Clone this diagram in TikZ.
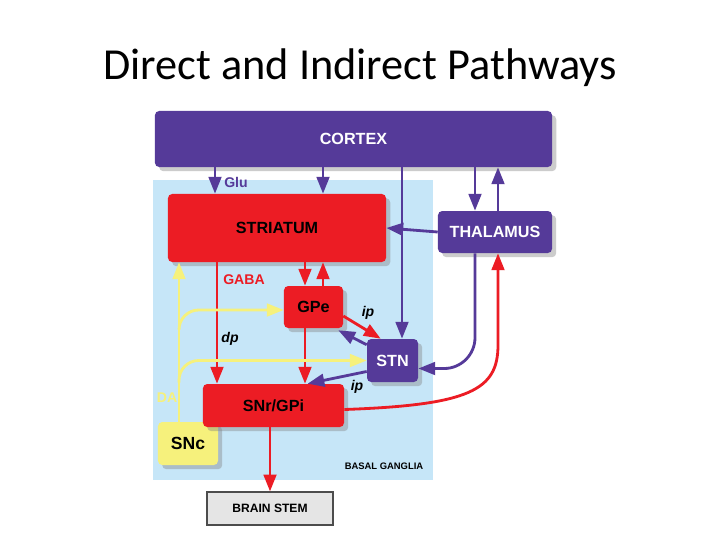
\documentclass[tikz,border=0pt]{standalone}
\usepackage{fontspec}
\setmainfont{Liberation Sans}
\newfontfamily\titlefont{Carlito}
\usetikzlibrary{positioning,calc,shadows,arrows.meta}
\definecolor{GangPurple}{HTML}{553A99}
\definecolor{GangRed}{HTML}{EC1C24}
\definecolor{GangBlue}{HTML}{C6E6F8}
\definecolor{GangYellow}{HTML}{F6F17C}
\definecolor{GangGrey}{HTML}{E5E5E5}

\begin{document}
\begin{tikzpicture}[x=0.025cm,y=-0.025cm,
    box/.style={rounded corners=3pt,inner sep=0pt,font=\bfseries\fontsize{11.5}{12}\selectfont,
      drop shadow={shadow xshift=3pt,shadow yshift=-3pt,opacity=0.4}},
    purplebox/.style={box,fill=GangPurple,text=white},
    redbox/.style={box,fill=GangRed,text=black},
    parr/.style={GangPurple,line width=2pt,-{Triangle[length=12pt,width=9pt]}},
    rarr/.style={parr,GangRed},
    yarr/.style={parr,GangYellow},
    lbl/.style={font=\bfseries\fontsize{10}{11}\selectfont,inner sep=0pt},
    pathlbl/.style={lbl,font=\bfseries\itshape\fontsize{10}{11}\selectfont}]
  \useasboundingbox (0,0) rectangle (720,540);
  \fill[white] (0,0) rectangle (720,540);
  \node[font=\titlefont\fontsize{31.5}{36}\selectfont] (title) at (360,68) {Direct and Indirect Pathways};
  \fill[GangBlue] (153,180) rectangle (433,480);
  \node[font=\bfseries\fontsize{6.7}{7}\selectfont,inner sep=0pt] (ganglia) at (384,466) {BASAL GANGLIA};

  \node[purplebox,minimum width=9.925cm,minimum height=1.4cm] (cortex) at (353.5,139) {CORTEX};
  \node[redbox,minimum width=5.45cm,minimum height=1.7cm] (striatum) at (277,228) {STRIATUM};
  \node[purplebox,minimum width=2.85cm,minimum height=1.05cm] (thalamus) at (495,232) {THALAMUS};
  \node[redbox,minimum width=1.475cm,minimum height=1.05cm] (gpe) at (313.5,307) {GPe};
  \node[purplebox,minimum width=1.275cm,minimum height=1.075cm] (stn) at (392.5,360.5) {STN};
  \node[box,fill=GangYellow,minimum width=1.5cm,minimum height=1.075cm,
    font=\bfseries\fontsize{12.5}{13}\selectfont] (snc) at (188,443.5) {SNc};
  \node[redbox,minimum width=3.525cm,minimum height=1.075cm] (snr) at (273.5,405.5) {SNr/GPi};
  \node[draw=black!70,line width=0.8pt,fill=GangGrey,minimum width=3.15cm,minimum height=0.825cm,
    font=\bfseries\fontsize{8.6}{9}\selectfont] (brainstem) at (270,508.5) {BRAIN STEM};

  \coordinate (xglu) at (215,0);
  \coordinate (xcs) at (323,0);
  \coordinate (xstn) at (402,0);
  \coordinate (xthin) at (475,0);
  \coordinate (xthout) at (498,0);
  \coordinate (xsg) at (305,0);
  \coordinate (xdir) at (217,0);
  \coordinate (xda) at (179,0);
  \coordinate (bend) at (498,345);

  \draw[parr] (cortex.south -| xglu) -- (striatum.north -| xglu);
  \draw[parr] (cortex.south -| xcs) -- (striatum.north -| xcs);
  \draw[parr] (cortex.south -| xstn) -- (stn.north -| xstn);
  \draw[parr] (cortex.south -| xthin) -- (thalamus.north -| xthin);
  \draw[parr] (thalamus.north -| xthout) -- (cortex.south -| xthout);
  \draw[parr] (thalamus.west) -- (striatum.east);
  \draw[parr,rounded corners=22] (thalamus.south -| xthin) |- ($(stn.east)+(0,8)$);
  \draw[parr] ($(stn.north west)+(0,6)$) -- ($(gpe.south east)+(-5,2)$);
  \draw[parr] ($(stn.west)+(0,11)$) -- ($(snr.north)+(34,0)$);

  \draw[rarr] (striatum.south -| xsg) -- (gpe.north -| xsg);
  \draw[rarr] (gpe.north -| xcs) -- (striatum.south -| xcs);
  \draw[rarr] (striatum.south -| xdir) -- (snr.north -| xdir);
  \draw[rarr] (gpe.south -| xsg) -- (snr.north -| xsg);
  \draw[rarr] ($(gpe.east)+(0,9)$) -- ($(stn.north west)+(14,0)$);
  \draw[rarr] ($(snr.east)+(0,4)$) .. controls (470,405) and (498,390) .. (bend) -- (thalamus.south -| xthout);
  \draw[rarr] (snr.south -| brainstem.north) -- (brainstem.north);

  \draw[yarr] (snc.north -| xda) -- (striatum.south -| xda);
  \draw[yarr,rounded corners=14] ($(gpe.west -| xda)+(0,22)$) |- ($(gpe.west)+(0,3)$);
  \draw[yarr,rounded corners=14] ($(stn.west -| xda)+(0,22)$) |- (stn.west);

  \node[lbl,text=GangPurple] (glu) at (236,182) {Glu};
  \node[lbl,text=GangRed] (gaba) at (244,280) {GABA};
  \node[lbl,text=GangYellow] (da) at (167,398) {DA};
  \node[pathlbl] (dp) at (230,339) {dp};
  \node[pathlbl] (ip1) at (368,313) {ip};
  \node[pathlbl] (ip2) at (357,387) {ip};
\end{tikzpicture}
\end{document}
